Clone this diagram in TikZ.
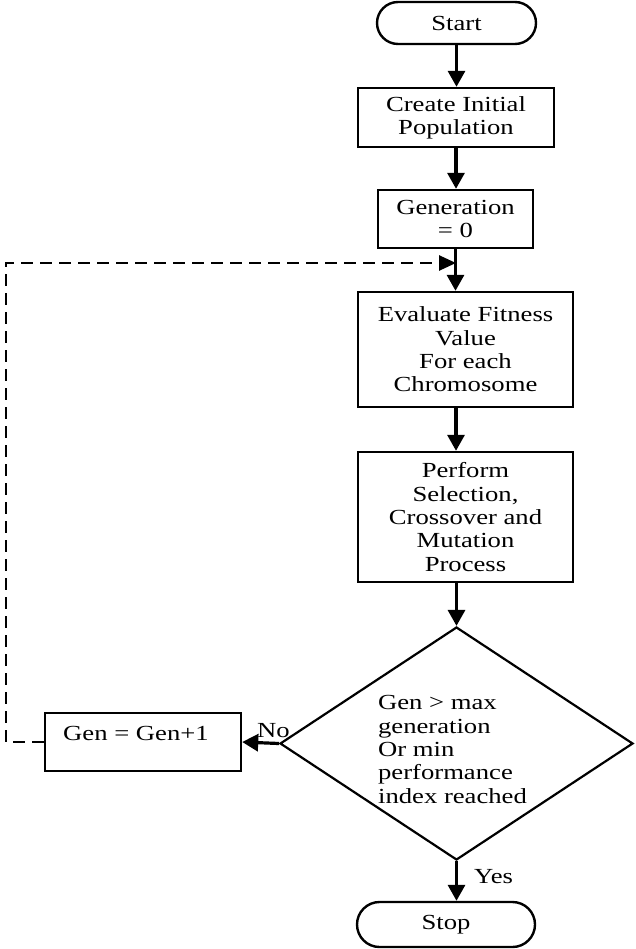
\documentclass[tikz,border=0pt]{standalone}
\usepackage{fontspec}
\setmainfont{Liberation Serif}[FakeStretch=1.24]
\usetikzlibrary{shapes.geometric,arrows.meta}
\begin{document}
\begin{tikzpicture}[x=1pt,y=-1pt,
  every node/.style={font=\fontsize{21.5}{23.3}\selectfont, text=black},
  proc/.style={draw, line width=2.4pt, rectangle, inner sep=0pt, align=center},
  term/.style={draw, line width=2.4pt, rectangle, inner sep=0pt, align=center},
  flow/.style={line width=3.2pt, -{Triangle[width=17pt,length=16pt]}},
  loopline/.style={line width=2.6pt, dash pattern=on 12pt off 7pt, -{Triangle[width=15pt,length=17pt]}},
  plain/.style={inner sep=0pt}]
\useasboundingbox (0,0) rectangle (635,949);

\node[term, rounded corners=21pt, minimum width=159pt, minimum height=42pt] (start) at (456.5,23) {Start};
\node[proc, minimum width=196pt, minimum height=59pt] (create) at (456,117.5) {Create Initial\\Population};
\node[proc, minimum width=155pt, minimum height=58pt] (gen0) at (455.5,219) {Generation\\= 0};
\node[proc, minimum width=215pt, minimum height=115pt] (eval) at (465.5,349.5) {Evaluate Fitness\\Value\\For each\\Chromosome};
\node[proc, minimum width=215pt, minimum height=130pt] (perf) at (465.5,517) {Perform\\Selection,\\Crossover and\\Mutation\\Process};
\node[draw, line width=2.2pt, diamond, inner sep=0pt, minimum width=353pt, minimum height=233pt] (dec) at (456.5,743.5) {};
\node[plain, align=left] (dtext) at (452.5,749.5) {Gen > max\\generation\\Or min\\performance\\index reached};
\node[proc, minimum width=196pt, minimum height=58pt] (genbox) at (143,742) {};
\node[plain, anchor=base west] (gentxt) at (63,740) {Gen = Gen+1};
\node[term, rounded corners=22.5pt, minimum width=178pt, minimum height=45pt] (stop) at (446,924.5) {Stop};

\node[plain, anchor=base west] (nolab) at (257,737) {No};
\node[plain, anchor=base west] (yeslab) at (474,883) {Yes};

\coordinate (c1) at (6,742);
\coordinate (c2) at (6,263);
\coordinate (merge) at (456,263);

\draw[flow] (start.south) -- (start.south |- create.north);
\draw[flow] (create.south) -- (create.south |- gen0.north);
\draw[flow] (gen0.south) -- (gen0.south |- eval.north);
\draw[flow] (merge |- eval.south) -- (merge |- perf.north);
\draw[flow] (dec.north |- perf.south) -- (dec.north);
\draw[flow] (dec.west) -- (genbox.east);
\draw[flow] (dec.south) -- (dec.south |- stop.north);
\draw[loopline] (genbox.west) -- (c1) -- (c2) -- (merge);
\end{tikzpicture}
\end{document}
